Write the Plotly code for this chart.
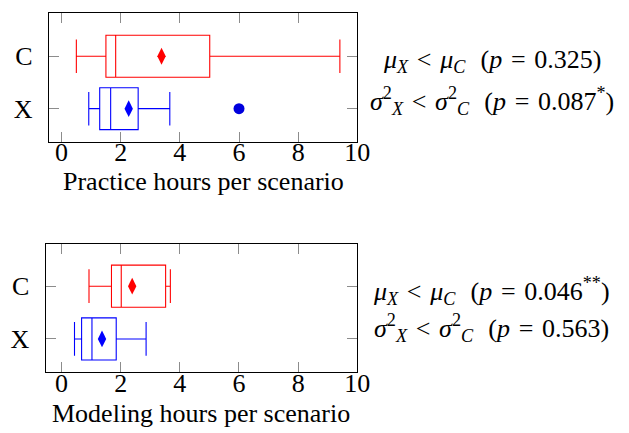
import plotly.graph_objects as go

# ---- data ----
groups = ["X", "C"]
group_pos = [1, 2]
colors = {"X": "#0000ff", "C": "#ff0000"}

# Practice hours per scenario
practice = {
    "C": dict(low=0.50, q1=1.50, med=1.83, q3=5.01, high=9.41, mean=3.38, out=[]),
    "X": dict(low=0.92, q1=1.29, med=1.66, q3=2.59, high=3.66, mean=2.27, out=[6.0]),
}
# Modeling hours per scenario
modeling = {
    "C": dict(low=0.93, q1=1.69, med=2.02, q3=3.52, high=3.68, mean=2.39, out=[]),
    "X": dict(low=0.44, q1=0.68, med=1.03, q3=1.85, high=2.86, mean=1.37, out=[]),
}
x_ticks = [0, 2, 4, 6, 8, 10]
titles = ["Practice hours per scenario", "Modeling hours per scenario"]
SP = "&#8196;"
stats_text = [
    [f"<i>μ</i><sub><i>X</i></sub>{SP}&lt;{SP}<i>μ</i><sub><i>C</i></sub>{SP} (<i>p</i>{SP}={SP}0.325)",
     f"<i>σ</i><sup>2</sup><sub><i>X</i></sub>{SP}&lt;{SP}<i>σ</i><sup>2</sup><sub><i>C</i></sub>{SP} (<i>p</i>{SP}={SP}0.087<sup>*</sup>)"],
    [f"<i>μ</i><sub><i>X</i></sub>{SP}&lt;{SP}<i>μ</i><sub><i>C</i></sub>{SP} (<i>p</i>{SP}={SP}0.046<sup>**</sup>)",
     f"<i>σ</i><sup>2</sup><sub><i>X</i></sub>{SP}&lt;{SP}<i>σ</i><sup>2</sup><sub><i>C</i></sub>{SP} (<i>p</i>{SP}={SP}0.563)"],
]

FONT = "Liberation Serif"
FS = 26
W, H = 629, 433

fig = go.Figure()

datasets = [practice, modeling]
axes = [("x", "y"), ("x2", "y2")]
for data, (xa, ya) in zip(datasets, axes):
    for g, pos in zip(groups, group_pos):
        d = data[g]
        c = colors[g]
        fig.add_trace(go.Box(
            orientation="h", y=[pos],
            q1=[d["q1"]], median=[d["med"]], q3=[d["q3"]],
            lowerfence=[d["low"]], upperfence=[d["high"]],
            width=0.8, whiskerwidth=0.8,
            line=dict(color=c, width=1.1), fillcolor="rgba(0,0,0,0)",
            boxpoints=False, xaxis=xa, yaxis=ya, showlegend=False,
            hoverinfo="skip",
        ))
        fig.add_trace(go.Scatter(
            x=[d["mean"]], y=[pos], mode="markers",
            marker=dict(symbol="diamond-tall", size=12, color=c, line=dict(width=0)),
            xaxis=xa, yaxis=ya, showlegend=False, hoverinfo="skip",
        ))
        if d["out"]:
            fig.add_trace(go.Scatter(
                x=d["out"], y=[pos] * len(d["out"]), mode="markers",
                marker=dict(symbol="circle", size=11, color="#0000dd", line=dict(width=0)),
                xaxis=xa, yaxis=ya, showlegend=False, hoverinfo="skip",
            ))

axis_common = dict(
    showline=True, linecolor="black", linewidth=1, mirror="ticks",
    ticks="inside", ticklen=10, tickcolor="#8c8c8c", tickwidth=1,
    showgrid=False, zeroline=False,
    tickfont=dict(family=FONT, size=FS, color="black"),
)

fig.update_layout(
    width=W, height=H,
    margin=dict(l=0, r=0, t=0, b=0),
    paper_bgcolor="white", plot_bgcolor="white",
    font=dict(family=FONT, size=FS, color="black"),
    xaxis=dict(domain=[41.7 / W, 356.7 / W], range=[-0.43, 10], anchor="y",
               tickvals=x_ticks, ticklabelstandoff=-13, **axis_common),
    yaxis=dict(domain=[1 - 134 / H, 1 - 5.3 / H], range=[0.364, 2.82], anchor="x",
               tickvals=group_pos, ticktext=groups, ticklabelstandoff=10, **axis_common),
    xaxis2=dict(domain=[38.3 / W, 356.7 / W], range=[-0.54, 10], anchor="y2",
                tickvals=x_ticks, ticklabelstandoff=-13, **axis_common),
    yaxis2=dict(domain=[1 - 364.3 / H, 1 - 236 / H], range=[0.368, 2.80], anchor="x2",
                tickvals=group_pos, ticktext=groups, ticklabelstandoff=10, **axis_common),
)

annos = []
title_y = [173, 405]
title_x = [199.2, 197.5]
for t, tx, ty in zip(titles, title_x, title_y):
    annos.append(dict(text=t, x=tx / W, y=1 - ty / H, xref="paper", yref="paper",
                      xanchor="center", yanchor="middle", showarrow=False,
                      font=dict(family=FONT, size=FS)))
stat_y = [[53, 93], [283, 320]]
for lines, ys in zip(stats_text, stat_y):
    for txt, yy in zip(lines, ys):
        annos.append(dict(text=txt, x=494 / W, y=1 - yy / H, xref="paper", yref="paper",
                          xanchor="center", yanchor="middle", showarrow=False,
                          font=dict(family=FONT, size=FS)))
fig.update_layout(annotations=annos)

fig.write_html("out.html")
